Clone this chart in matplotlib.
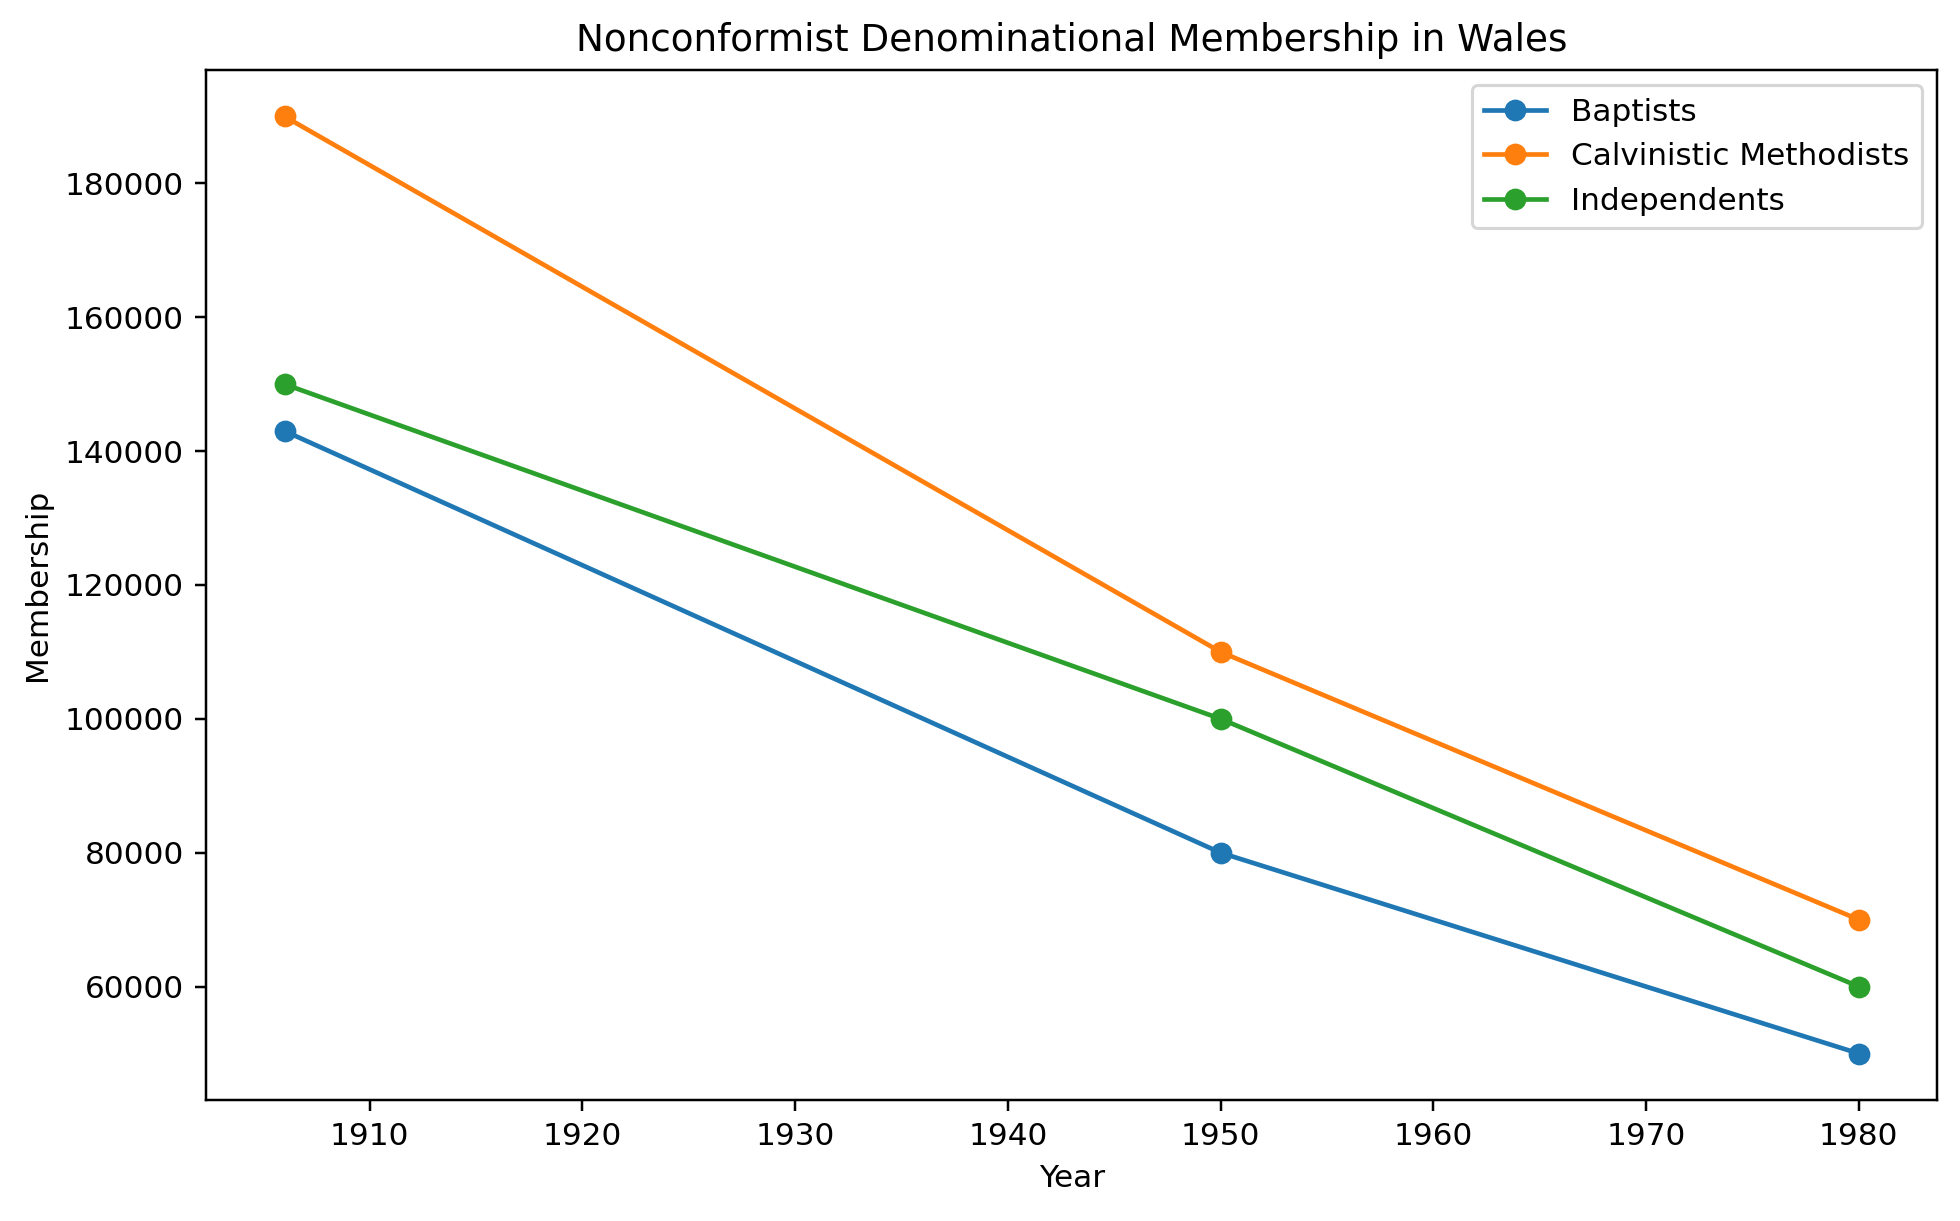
import matplotlib
matplotlib.use("Agg")
import matplotlib.pyplot as plt

years = [1906, 1950, 1980]
baptists = [143000, 80000, 50000]
calvinistic_methodists = [190000, 110000, 70000]
independents = [150000, 100000, 60000]

fig, ax = plt.subplots(figsize=(1960 / 224, 1221 / 224), dpi=224)

ax.plot(years, baptists, marker='o', label='Baptists')
ax.plot(years, calvinistic_methodists, marker='o', label='Calvinistic Methodists')
ax.plot(years, independents, marker='o', label='Independents')

ax.set_title('Nonconformist Denominational Membership in Wales')
ax.set_xlabel('Year')
ax.set_ylabel('Membership')
ax.legend(loc='upper right')

fig.subplots_adjust(left=0.105, right=0.9885, top=0.943, bottom=0.0988)
fig.savefig('out.png', dpi=224)
